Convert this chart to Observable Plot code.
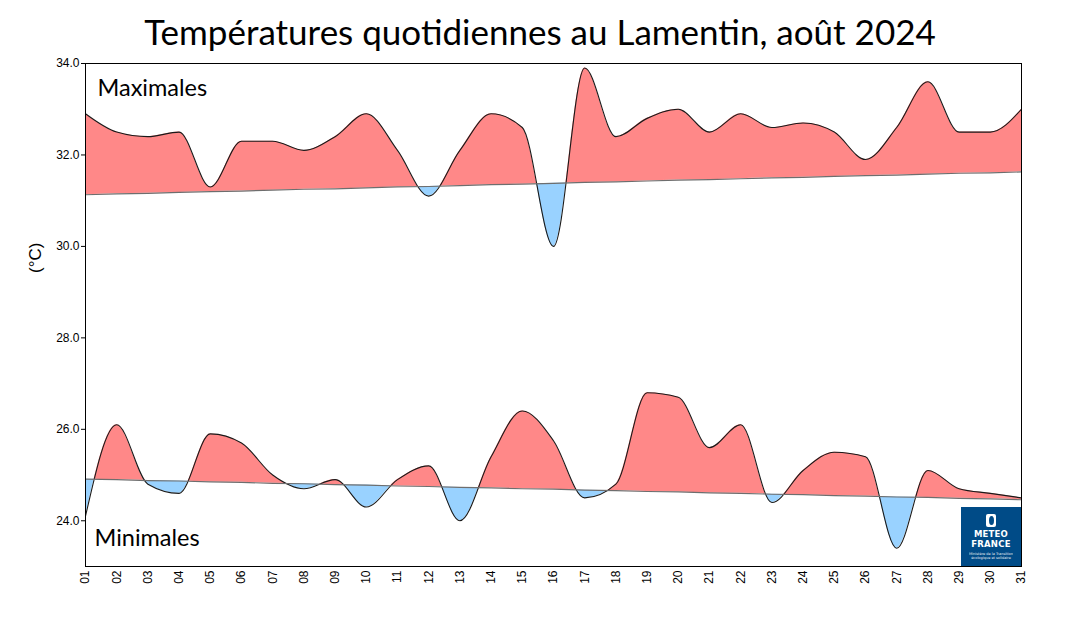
<!DOCTYPE html>
<html>
<head>
<meta charset="utf-8">
<script src="https://cdn.jsdelivr.net/npm/d3@7"></script>
<script src="https://cdn.jsdelivr.net/npm/@observablehq/plot@0.6"></script>
<style>
  html, body { margin: 0; padding: 0; background: #fff; }
  body { width: 1080px; height: 617px; overflow: hidden; position: relative; }
  #title { height: 50px; margin: 0; font-family: Lato, "Open Sans", sans-serif; font-size: 35px; font-weight: 400;
           text-align: center; line-height: 62px; color: #000; white-space: nowrap; position: relative; z-index: 1; }
  #chart svg { display: block; }
  #logo { position: absolute; left: 961px; top: 507px; width: 60px; height: 59px; background: #004b87;
          color: #fff; font-family: "DejaVu Sans", sans-serif; text-align: center; }
  #logo .icon { width: 10px; height: 13px; margin: 7px auto 2px; background: #fff; border-radius: 2px; position: relative; }
  #logo .icon::after { content: ""; position: absolute; left: 3px; top: 2px; width: 5px; height: 9px; border-radius: 50%; background: #004b87; }
  #logo .name { font-size: 8.5px; font-weight: bold; line-height: 10px; letter-spacing: 0.2px; }
  #logo .tag { font-size: 3.5px; line-height: 4px; margin-top: 3px; opacity: 0.9; }
</style>
</head>
<body>
<div id="title">Températures quotidiennes au Lamentin, août 2024</div>
<div id="chart"></div>
<div id="logo"><div class="icon"></div><div class="name">METEO<br>FRANCE</div><div class="tag">Ministère de la Transition<br>écologique et solidaire</div></div>
<script>
// Days of August 2024
const days = [1,2,3,4,5,6,7,8,9,10,11,12,13,14,15,16,17,18,19,20,21,22,23,24,25,26,27,28,29,30,31];

// Daily maximum temperatures (°C)
const maxValues = [32.9,32.5,32.4,32.5,31.3,32.3,32.3,32.1,32.4,32.9,32.1,31.1,32.1,32.9,32.6,30.0,
                   33.9,32.4,32.8,33.0,32.5,32.9,32.6,32.7,32.5,31.9,32.6,33.6,32.5,32.5,33.0];
// Normal of the daily maximum (°C)
const normalMax = [31.13,31.15,31.16,31.18,31.20,31.21,31.23,31.25,31.26,31.28,31.30,31.31,31.33,31.35,31.36,31.38,
                   31.40,31.41,31.43,31.45,31.46,31.48,31.50,31.51,31.53,31.55,31.56,31.58,31.60,31.61,31.63];

// Daily minimum temperatures (°C)
const minValues = [24.1,26.1,24.8,24.6,25.9,25.7,25.0,24.7,24.9,24.3,24.9,25.2,24.0,25.4,26.4,25.75,
                   24.5,24.8,26.8,26.7,25.6,26.1,24.4,25.1,25.5,25.4,23.4,25.1,24.7,24.6,24.5];
// Normal of the daily minimum (°C)
const normalMin = [24.91,24.90,24.88,24.87,24.85,24.84,24.82,24.81,24.79,24.78,24.76,24.75,24.73,24.72,24.70,24.69,
                   24.67,24.66,24.64,24.63,24.61,24.60,24.58,24.57,24.55,24.54,24.52,24.51,24.49,24.48,24.46];

const yTicks = [24, 26, 28, 30, 32, 34];

const data = days.map((d, i) => ({day: d, max: maxValues[i], nmax: normalMax[i], min: minValues[i], nmin: normalMin[i]}));

const RED = "#ff8888";
const BLUE = "#99d2ff";

const chart = Plot.plot({
  width: 1080,
  height: 567,
  marginLeft: 85,
  marginRight: 59,
  marginTop: 13,
  marginBottom: 51,
  style: {fontFamily: "'Liberation Sans', Arial, sans-serif", fontSize: "12px", color: "#000", background: "transparent", overflow: "visible"},
  x: {domain: [1, 31]},
  y: {domain: [23, 34]},
  marks: [
    Plot.differenceY(data, {x: "day", y1: "nmax", y2: "max", positiveFill: RED, negativeFill: BLUE,
                            fillOpacity: 1, curve: "monotone-x", stroke: "#1a1a1a", strokeWidth: 1.1}),
    Plot.differenceY(data, {x: "day", y1: "nmin", y2: "min", positiveFill: RED, negativeFill: BLUE,
                            fillOpacity: 1, curve: "monotone-x", stroke: "#1a1a1a", strokeWidth: 1.1}),
    Plot.line(data, {x: "day", y: "nmax", stroke: "#6e6e6e", strokeWidth: 1.2}),
    Plot.line(data, {x: "day", y: "nmin", stroke: "#6e6e6e", strokeWidth: 1.2}),
    Plot.axisY({ticks: yTicks, tickFormat: d => d.toFixed(1), tickSize: 4, tickPadding: 2, label: null, fontSize: 12}),
    Plot.axisX({ticks: days, tickFormat: d => String(d).padStart(2, "0"), tickRotate: -90, tickSize: 0, tickPadding: 4, label: null, fontSize: 12}),
    Plot.text(["(°C)"], {frameAnchor: "left", dx: -50, dy: -42, rotate: -90, fontSize: 17, fontFamily: "'Liberation Sans', Arial, sans-serif"}),
    Plot.text(["Maximales"], {frameAnchor: "top-left", dx: 12, dy: 16, textAnchor: "start", fontSize: 23.5, fontFamily: "Lato, 'Open Sans', sans-serif"}),
    Plot.text(["Minimales"], {frameAnchor: "bottom-left", dx: 9, dy: -21, textAnchor: "start", fontSize: 23.5, fontFamily: "Lato, 'Open Sans', sans-serif"}),
    Plot.frame({stroke: "#000", strokeWidth: 1})
  ]
});
document.getElementById("chart").appendChild(chart);
</script>
</body>
</html>
